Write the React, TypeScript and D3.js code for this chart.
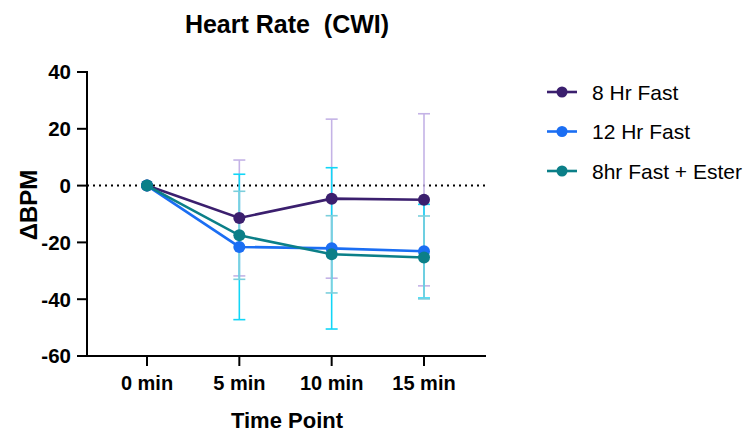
import React from "react";
import * as d3 from "d3";

const categories = ["0 min", "5 min", "10 min", "15 min"];
const seriesNames = ["8 Hr Fast", "12 Hr Fast", "8hr Fast + Ester"];
const fast8Mean = [0, -11.4, -4.6, -5.0];
const fast8Err = [0, 20.4, 28.0, 30.3];
const fast12Mean = [0, -21.6, -22.1, -23.1];
const fast12Err = [0, 25.6, 28.4, 16.5];
const esterMean = [0, -17.5, -24.2, -25.3];
const esterErr = [0, 15.5, 13.6, 14.6];
const yTicks = [40, 20, 0, -20, -40, -60];

const lineColors = ["#3b1f6e", "#1b6ef3", "#0b7f88"];
const errColors = ["#c4b3e6", "#12d6f7", "#7ccfdc"];

export default function App() {
  const W = 748, H = 432;
  const x0 = 87, x1 = 486, yTop = 72, yBot = 356;
  const y = d3.scaleLinear().domain([-60, 40]).range([yBot, yTop]);
  const x = d3.scalePoint<string>().domain(categories).range([147, 424]);
  const series = [
    { name: seriesNames[0], mean: fast8Mean, err: fast8Err },
    { name: seriesNames[1], mean: fast12Mean, err: fast12Err },
    { name: seriesNames[2], mean: esterMean, err: esterErr },
  ];
  const line = d3.line<number>().x((_, i) => x(categories[i])!).y((d) => y(d));
  const font = "'Liberation Sans', Arial, Helvetica, sans-serif";
  return (
    <svg width={W} height={H} style={{ position: "absolute", left: 0, top: 0, background: "#fff" }} fontFamily={font}>
      <text x={287} y={33} textAnchor="middle" fontSize={25} fontWeight="bold" style={{ whiteSpace: "pre" }}>Heart Rate  (CWI)</text>
      {/* zero dotted line */}
      <line x1={x0} x2={x1} y1={y(0)} y2={y(0)} stroke="#000" strokeWidth={2} strokeDasharray="2,4" />
      {/* error bars */}
      {series.map((s, si) => (
        <g key={"e" + si} stroke={errColors[si]} strokeWidth={1.6}>
          {s.mean.map((m, i) => {
            if (s.err[i] === 0) return null;
            const cx = x(categories[i])!;
            const t = y(m + s.err[i]), b = y(m - s.err[i]);
            return (
              <g key={i}>
                <line x1={cx} x2={cx} y1={t} y2={b} />
                <line x1={cx - 6} x2={cx + 6} y1={t} y2={t} />
                <line x1={cx - 6} x2={cx + 6} y1={b} y2={b} />
              </g>
            );
          })}
        </g>
      ))}
      {/* lines and markers */}
      {series.map((s, si) => (
        <g key={"l" + si}>
          <path d={line(s.mean)!} fill="none" stroke={lineColors[si]} strokeWidth={2.6} />
          {s.mean.map((m, i) => (
            <circle key={i} cx={x(categories[i])!} cy={y(m)} r={6} fill={lineColors[si]} />
          ))}
        </g>
      ))}
      {/* y axis */}
      <line x1={x0} x2={x0} y1={yTop - 1} y2={yBot + 1} stroke="#000" strokeWidth={2} />
      {yTicks.map((t) => (
        <g key={t}>
          <line x1={x0 - 10} x2={x0} y1={y(t)} y2={y(t)} stroke="#000" strokeWidth={2} />
          <text x={x0 - 16} y={y(t)} dy="0.36em" textAnchor="end" fontSize={20.5} fontWeight="bold">{t}</text>
        </g>
      ))}
      <text transform={`translate(37,205) rotate(-90)`} textAnchor="middle" fontSize={24} fontWeight="bold">ΔBPM</text>
      {/* x axis */}
      <line x1={x0 - 1} x2={x1} y1={yBot} y2={yBot} stroke="#000" strokeWidth={2} />
      {categories.map((c) => (
        <g key={c}>
          <line x1={x(c)!} x2={x(c)!} y1={yBot} y2={yBot + 10} stroke="#000" strokeWidth={2} />
          <text x={x(c)!} y={390} textAnchor="middle" fontSize={20} fontWeight="bold">{c}</text>
        </g>
      ))}
      <text x={287} y={428} textAnchor="middle" fontSize={22} fontWeight="bold">Time Point</text>
      {/* legend */}
      {series.map((s, si) => {
        const ly = 92 + si * 39.5;
        return (
          <g key={"g" + si}>
            <line x1={547} x2={577} y1={ly} y2={ly} stroke={lineColors[si]} strokeWidth={2.6} />
            <circle cx={562} cy={ly} r={5.5} fill={lineColors[si]} />
            <text x={592} y={ly} dy="0.36em" fontSize={21}>{s.name}</text>
          </g>
        );
      })}
    </svg>
  );
}
